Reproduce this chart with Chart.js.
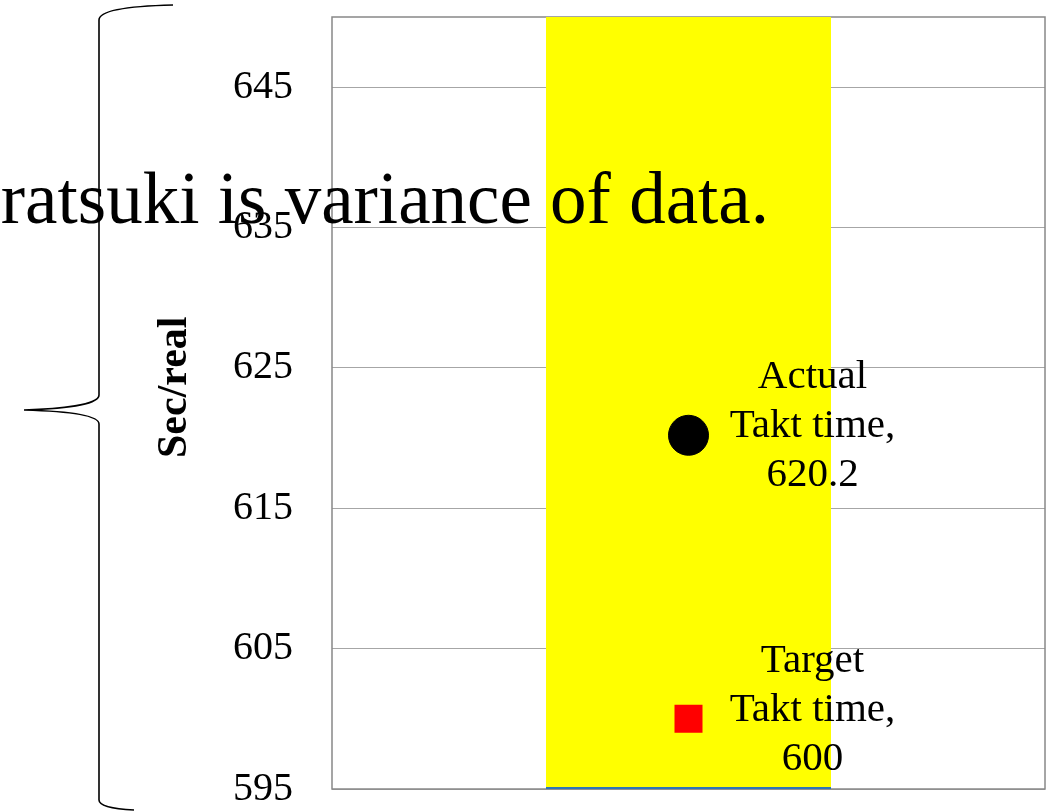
<!DOCTYPE html>
<html>
<head>
<meta charset="utf-8">
<title>Takt time</title>
<script src="https://cdn.jsdelivr.net/npm/chart.js@4.4.1/dist/chart.umd.min.js"></script>
<style>
    html, body { margin: 0; padding: 0; background: #ffffff; }
    #wrap { position: relative; width: 1053px; height: 811px; overflow: hidden; }
</style>
</head>
<body>
<div id="wrap"><canvas id="taktChart"></canvas></div>
<script>
// Chart data
const categories = [''];
const yTicks = [595, 605, 615, 625, 635, 645];
const yMin = 595;
const yMax = 650;
const baratsukiRange = [595, 650];
const actualTakt = [620.2];
const targetTakt = [600];
const actualLabel = ['Actual', 'Takt time,'];
const targetLabel = ['Target', 'Takt time,'];
const bigNote = 'Baratsuki is variance of data.';

const serif = '"Liberation Serif", "Times New Roman", serif';

// Border around the plot area (drawn under the bar)
const plotBorder = {
    id: 'plotBorder',
    beforeDatasetsDraw(chart) {
        const a = chart.chartArea;
        const ctx = chart.ctx;
        ctx.save();
        ctx.strokeStyle = '#888888';
        ctx.lineWidth = 1.5;
        ctx.strokeRect(a.left, a.top, a.right - a.left, a.bottom - a.top);
        ctx.restore();
    }
};

// Data labels to the right of the two points
const pointLabels = {
    id: 'pointLabels',
    afterDatasetsDraw(chart) {
        const ctx = chart.ctx;
        const sets = [
            { index: 1, head: actualLabel, value: actualTakt[0] },
            { index: 2, head: targetLabel, value: targetTakt[0] }
        ];
        ctx.save();
        ctx.fillStyle = '#000000';
        ctx.font = '41px ' + serif;
        ctx.textAlign = 'center';
        ctx.textBaseline = 'alphabetic';
        sets.forEach(s => {
            const pt = chart.getDatasetMeta(s.index).data[0];
            const lines = s.head.concat([String(s.value)]);
            lines.forEach((txt, i) => {
                ctx.fillText(txt, pt.x + 124, pt.y - 47 + i * 49);
            });
        });
        ctx.restore();
    }
};

// Big note text and the curly brace on the left
const overlay = {
    id: 'overlay',
    afterDraw(chart) {
        const ctx = chart.ctx;
        ctx.save();
        ctx.fillStyle = '#000000';
        ctx.font = '73px ' + serif;
        ctx.textAlign = 'right';
        ctx.textBaseline = 'alphabetic';
        ctx.fillText(bigNote, 769, 223);

        // brace
        ctx.strokeStyle = '#000000';
        ctx.lineWidth = 1.6;
        ctx.beginPath();
        ctx.moveTo(173, 5);
        ctx.bezierCurveTo(130, 6, 99, 10, 99, 20);
        ctx.lineTo(99, 395);
        ctx.bezierCurveTo(99, 405, 60, 409, 24, 410);
        ctx.bezierCurveTo(60, 411, 99, 414, 99, 424);
        ctx.lineTo(99, 800);
        ctx.bezierCurveTo(99, 806, 115, 809, 134, 810);
        ctx.stroke();
        ctx.restore();
    }
};

const ctx = document.getElementById('taktChart');

new Chart(ctx, {
    type: 'bar',
    data: {
        labels: categories,
        datasets: [{
            label: 'Baratsuki',
            data: [baratsukiRange],
            backgroundColor: '#ffff00',
            borderColor: '#2e75b6',
            borderWidth: { top: 0, left: 0, right: 0, bottom: 2 },
            borderSkipped: false,
            barPercentage: 0.5,
            categoryPercentage: 0.8,
            order: 3
        }, {
            type: 'line',
            label: 'Actual Takt time',
            data: actualTakt,
            showLine: false,
            pointStyle: 'circle',
            pointRadius: 20,
            pointBackgroundColor: '#000000',
            pointBorderColor: '#000000',
            pointBorderWidth: 1,
            order: 1
        }, {
            type: 'line',
            label: 'Target Takt time',
            data: targetTakt,
            showLine: false,
            pointStyle: 'rect',
            pointRadius: 19.8,
            pointBackgroundColor: '#ff0000',
            pointBorderColor: '#ff0000',
            pointBorderWidth: 0,
            order: 2
        }]
    },
    options: {
        responsive: true,
        maintainAspectRatio: false,
        animation: false,
        events: [],
        layout: {
            autoPadding: false,
            padding: { left: 151, right: 8, top: 17, bottom: 22 }
        },
        plugins: {
            legend: { display: false },
            tooltip: { enabled: false }
        },
        scales: {
            x: {
                display: false,
                afterFit: function(axis) {
                    axis.height = 0;
                    axis.paddingLeft = 0;
                    axis.paddingRight = 0;
                }
            },
            y: {
                min: yMin,
                max: yMax,
                afterBuildTicks: function(axis) {
                    axis.ticks = yTicks.map(v => ({ value: v }));
                },
                // fix the axis box so the plot area lands where it is in the picture
                afterFit: function(axis) {
                    axis.width = 181;
                    axis.paddingTop = 0;
                    axis.paddingBottom = 0;
                },
                border: { display: false },
                grid: {
                    color: '#a6a6a6',
                    lineWidth: 1,
                    drawTicks: false
                },
                ticks: {
                    padding: 39,
                    color: '#000000',
                    font: { family: serif, size: 40, lineHeight: 0.9 }
                },
                title: {
                    display: true,
                    text: '   Sec/real',
                    color: '#000000',
                    padding: { top: 0, bottom: 38 },
                    font: { family: serif, size: 42, weight: 'bold', lineHeight: 1.15 }
                }
            }
        }
    },
    plugins: [plotBorder, pointLabels, overlay]
});
</script>
</body>
</html>
